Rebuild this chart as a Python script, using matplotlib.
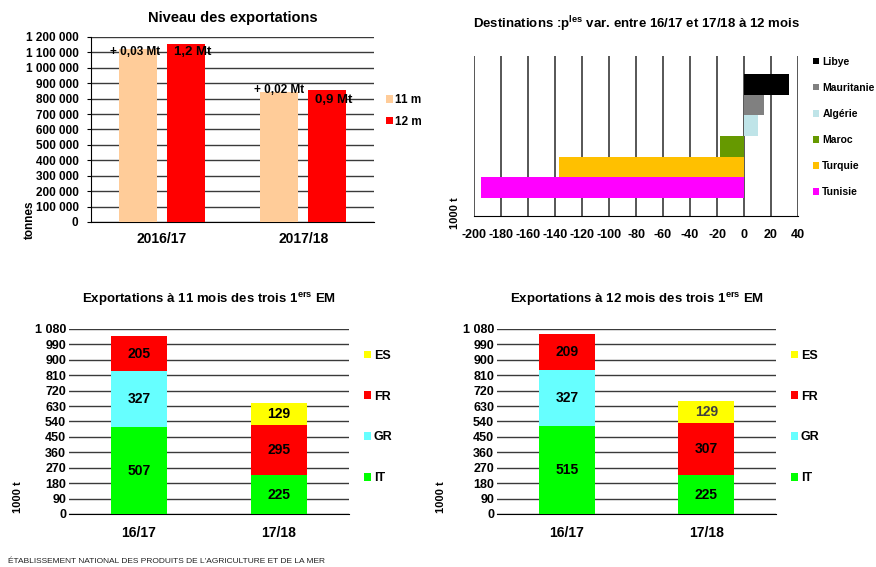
import matplotlib
matplotlib.use("Agg")
import matplotlib.pyplot as plt
import numpy as np
from matplotlib.ticker import FuncFormatter

plt.rcParams['font.family'] = ['Liberation Sans', 'DejaVu Sans']
plt.rcParams['font.weight'] = 'bold'
plt.rcParams['axes.unicode_minus'] = False
plt.rcParams['mathtext.fontset'] = 'custom'
plt.rcParams['mathtext.rm'] = 'Liberation Sans:bold'
plt.rcParams['mathtext.bf'] = 'Liberation Sans:bold'

# ---- Data ----
campaigns_long = ["2016/17", "2017/18"]
exports_11m = [1122000, 843000]
exports_12m = [1155000, 856000]
annot_11m = ["+ 0,03 Mt", "+ 0,02 Mt"]
annot_12m = ["1,2 Mt", "0,9 Mt"]

destinations = ["Tunisie", "Turquie", "Maroc", "Algérie", "Mauritanie", "Libye"]
dest_var = [-195, -137, -18, 10.5, 15, 33]
dest_colors = ["#FF00FF", "#FFC000", "#669900", "#BFE4E8", "#808080", "#000000"]

campaigns = ["16/17", "17/18"]
members = ["IT", "GR", "FR", "ES"]
member_colors = ["#00FF00", "#66FFFF", "#FF0000", "#FFFF00"]
em_11m = {"IT": [507, 225], "GR": [327, 0], "FR": [205, 295], "ES": [0, 129]}
em_12m = {"IT": [515, 225], "GR": [327, 0], "FR": [209, 307], "ES": [0, 129]}

fig = plt.figure(figsize=(8.76, 5.67), dpi=100)
grid_c = '#3a3a3a'

# ---- Top-left: Niveau des exportations ----
ax1 = fig.add_axes([0.1039, 0.6085, 0.323, 0.3263])
x = np.arange(len(campaigns_long))
w = 0.27
off = 0.17
ax1.bar(x - off, exports_11m, w, color="#FFCC99", label="11 m", zorder=3)
ax1.bar(x + off, exports_12m, w, color="#FF0000", label="12 m", zorder=3)
ax1.set_xlim(-0.5, 1.5)
ax1.set_ylim(0, 1200000)
ax1.set_yticks(np.arange(0, 1200001, 100000))
ax1.yaxis.set_major_formatter(FuncFormatter(lambda v, p: f"{int(v):,}".replace(",", " ")))
ax1.yaxis.grid(True, color=grid_c, lw=1, zorder=0)
ax1.set_axisbelow(True)
ax1.set_xticks(x)
ax1.set_xticklabels(campaigns_long)
ax1.tick_params(axis='x', length=0, pad=7, labelsize=10)
ax1.tick_params(axis='y', length=3, width=0.8, pad=6, labelsize=8.5)
for s in ['top', 'right']:
    ax1.spines[s].set_visible(False)
ax1.spines['left'].set_linewidth(0.8)
ax1.spines['bottom'].set_color('black')
ax1.set_title("Niveau des exportations", fontsize=10.5, fontweight='bold', pad=11)
ax1.set_ylabel("tonnes", fontsize=8.5, fontweight='bold')
ax1.yaxis.set_label_coords(-0.195, 0.01)
ax1.text(-0.186, 1103000, annot_11m[0], ha='center', va='center', fontsize=8.5)
ax1.text(0.22, 1103000, annot_12m[0], ha='center', va='center', fontsize=9.5)
ax1.text(0.83, 856000, annot_11m[1], ha='center', va='center', fontsize=8.5)
ax1.text(1.217, 791000, annot_12m[1], ha='center', va='center', fontsize=9.5)
ax1.legend(loc='center left', bbox_to_anchor=(1.02, 0.6), frameon=False,
           fontsize=8.5, handlelength=0.6, handleheight=0.6, handletextpad=0.2,
           labelspacing=0.8, borderpad=0)

# ---- Top-right: Destinations ----
ax2 = fig.add_axes([0.5411, 0.619, 0.3699, 0.2822])
for i, (d, v, c) in enumerate(zip(destinations, dest_var, dest_colors)):
    ax2.barh(i, v, height=1.0, color=c, label=d, zorder=3)
ax2.set_xlim(-200, 40)
ax2.set_ylim(-1.38, 6.38)
ax2.set_xticks(np.arange(-200, 41, 20))
ax2.set_yticks([])
ax2.xaxis.grid(True, color=grid_c, lw=1.2, zorder=0)
ax2.set_axisbelow(True)
ax2.tick_params(axis='x', length=0, pad=9, labelsize=9)
for s in ['top', 'right', 'left']:
    ax2.spines[s].set_visible(False)
ax2.spines['bottom'].set_color('black')
ax2.set_title(r"Destinations :p$^{\mathbf{les}}$ var. entre 16/17 et 17/18 à 12 mois",
              fontsize=9.5, fontweight='bold', pad=20)
ax2.set_ylabel("1000 t", fontsize=8, fontweight='bold')
ax2.yaxis.set_label_coords(-0.043, 0.02)
h, l = ax2.get_legend_handles_labels()
ax2.legend(h[::-1], l[::-1], loc='center left', bbox_to_anchor=(1.03, 0.556), frameon=False,
           fontsize=7.5, handlelength=0.6, handleheight=0.6, handletextpad=0.3,
           labelspacing=1.55, borderpad=0)


def stacked(ax, data, title, gray_last=False):
    xs = np.arange(len(campaigns))
    bottom = np.zeros(len(campaigns))
    for m, c in zip(members, member_colors):
        vals = np.array(data[m], dtype=float)
        ax.bar(xs, vals, 0.4, bottom=bottom, color=c, label=m, zorder=3)
        for i, v in enumerate(vals):
            if v > 0:
                col = '#404040' if (gray_last and m == 'ES') else 'black'
                ax.text(xs[i], bottom[i] + v / 2, f"{int(v)}", ha='center', va='center',
                        fontsize=10, fontweight='bold', color=col, zorder=4)
        bottom += vals
    ax.set_xlim(-0.5, 1.5)
    ax.set_ylim(0, 1080)
    ax.set_yticks(np.arange(0, 1081, 90))
    ax.yaxis.set_major_formatter(FuncFormatter(lambda v, p: f"{int(v):,}".replace(",", " ")))
    ax.yaxis.grid(True, color=grid_c, lw=1, zorder=0)
    ax.set_axisbelow(True)
    ax.set_xticks(xs)
    ax.set_xticklabels(campaigns)
    ax.tick_params(axis='x', length=0, pad=9, labelsize=10)
    ax.tick_params(axis='y', length=0, pad=2, labelsize=9)
    for s in ['top', 'right', 'left']:
        ax.spines[s].set_visible(False)
    ax.spines['bottom'].set_color('black')
    ax.set_title(title, fontsize=9.5, fontweight='bold', pad=19)
    h, l = ax.get_legend_handles_labels()
    ax.legend(h[::-1], l[::-1], loc='center left', bbox_to_anchor=(1.03, 0.524), frameon=False,
              fontsize=9, handlelength=0.6, handleheight=0.6, handletextpad=0.2,
              labelspacing=2.3, borderpad=0)


ax3 = fig.add_axes([0.0788, 0.0935, 0.3196, 0.3263])
stacked(ax3, em_11m, r"Exportations à 11 mois des trois 1$^{\mathbf{ers}}$ EM")
ax3.set_ylabel("1000 t", fontsize=8, fontweight='bold')
ax3.yaxis.set_label_coords(-0.165, 0.09)

ax4 = fig.add_axes([0.5674, 0.0935, 0.3185, 0.3263])
stacked(ax4, em_12m, r"Exportations à 12 mois des trois 1$^{\mathbf{ers}}$ EM", gray_last=True)
ax4.set_ylabel("1000 t", fontsize=8, fontweight='bold')
ax4.yaxis.set_label_coords(-0.183, 0.09)

fig.text(0.009, 0.004, "ÉTABLISSEMENT NATIONAL DES PRODUITS DE L'AGRICULTURE ET DE LA MER",
         fontsize=6, fontweight='normal', ha='left', va='bottom', color='#222222')

fig.savefig("out.png", dpi=100)
